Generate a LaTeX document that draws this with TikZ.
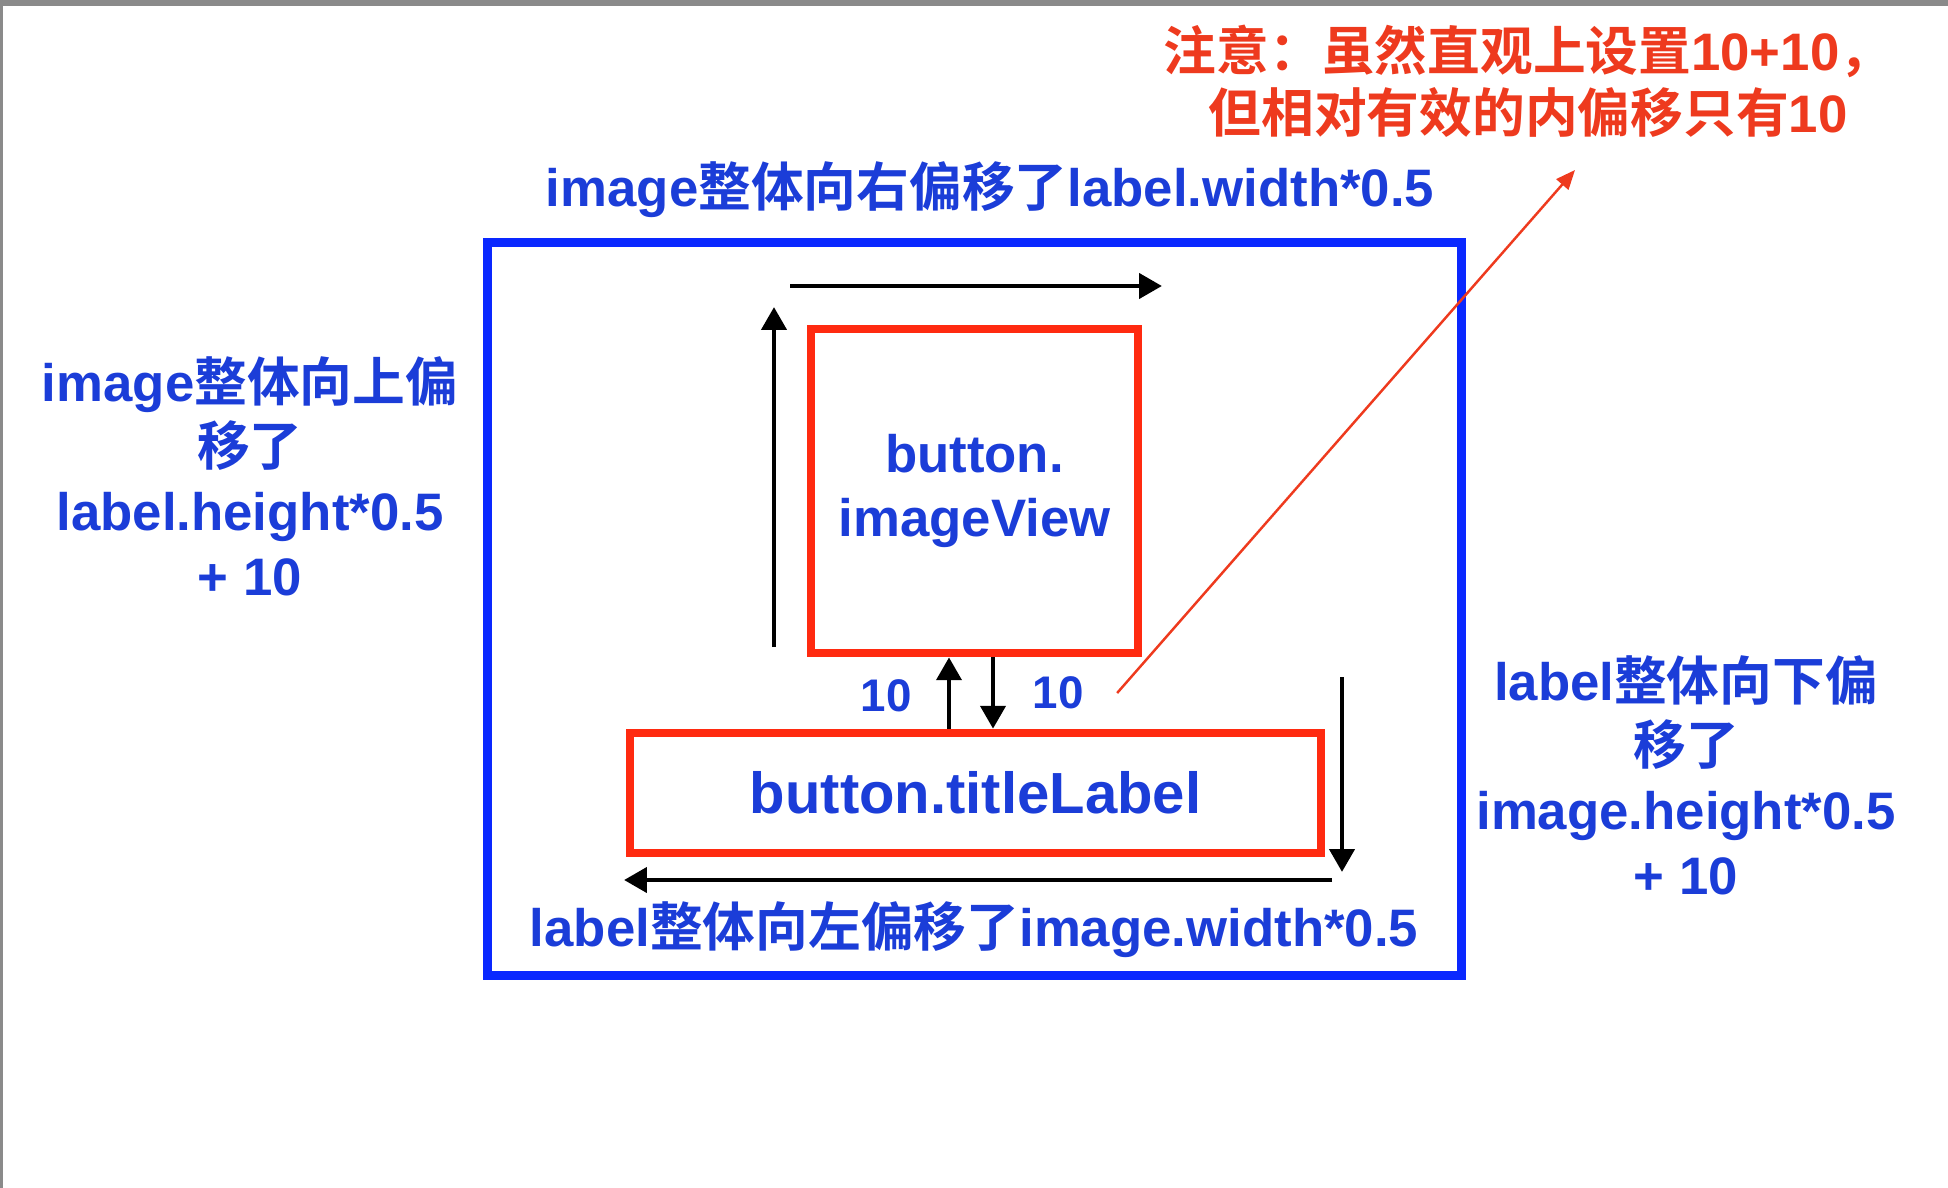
\documentclass[tikz,border=0pt]{standalone}
\usepackage{fontspec}
\setmainfont{Liberation Sans}
\newfontfamily\cjk{Noto Sans CJK SC}[BoldFont={Noto Sans CJK SC Bold}]
\newcommand{\zh}[1]{{\cjk #1}}
\usetikzlibrary{arrows.meta,positioning,calc}
\definecolor{frameBlue}{HTML}{0A28FF}
\definecolor{textBlue}{HTML}{1B3DD8}
\definecolor{viewRed}{HTML}{FF2A10}
\definecolor{noteRed}{HTML}{EE3A1E}
\definecolor{barGray}{HTML}{8A8A8A}

\begin{document}
\begin{tikzpicture}[
  x=0.01cm, y=-0.01cm,
  outerframe/.style={rectangle, draw=frameBlue, line width=2.5pt, inner sep=0pt},
  viewbox/.style={rectangle, draw=viewRed, line width=2.4pt, align=center, text=textBlue, font=\bfseries\fontsize{15}{18.4}\selectfont},
  bluetext/.style={align=center, inner sep=0pt, text=textBlue, font=\bfseries\fontsize{15}{18.4}\selectfont},
  gaptext/.style={inner sep=0pt, text=textBlue, font=\bfseries\fontsize{13}{15}\selectfont},
  notetext/.style={align=center, inner sep=0pt, text=noteRed, font=\bfseries\fontsize{15}{17.6}\selectfont},
  arrow/.style={-{Triangle[length=6.5pt, width=7pt]}, line width=1.4pt, draw=black},
  noteline/.style={-{Triangle[length=5.5pt, width=4.5pt]}, line width=0.7pt, draw=noteRed}
]
\useasboundingbox (0,0) rectangle (1948,1188);
% screenshot edges
\fill[barGray] (0,0) rectangle (1948,6);
\fill[barGray] (0,0) rectangle (3,1188);

\node[outerframe, minimum width=9.73cm, minimum height=7.32cm] (button) at (974.5,609) {};
\node[viewbox, minimum width=3.27cm, minimum height=3.24cm] (imageview) at (974.5,491) {button.\\imageView};
\node[viewbox, minimum width=6.91cm, minimum height=1.20cm, font=\bfseries\fontsize{16.5}{18}\selectfont] (titlelabel) at (975.5,793) {button.titleLabel};

\node[bluetext] (shiftright) at (990,190) {image\zh{整体向右偏移了}label.width*0.5};
\node[bluetext] (shiftleft) at (974,930) {label\zh{整体向左偏移了}image.width*0.5};
\node[bluetext] (shiftup) at (250,476) {image\zh{整体向上偏}\\\zh{移了}\\label.height*0.5\\+ 10};
\node[bluetext] (shiftdown) at (1686,775) {label\zh{整体向下偏}\\\zh{移了}\\image.height*0.5\\+ 10};
\node[notetext] (note) at (1528,81) {\zh{注意：虽然直观上设置}10+10\zh{，}\\\zh{但相对有效的内偏移只有}10};

\node[gaptext] (gapleft) at (886,696) {10};
\node[gaptext] (gapright) at (1058,693) {10};

\coordinate (upfrom) at (774,647);
\coordinate (upto) at (774,307);
\coordinate (rightfrom) at (790,286);
\coordinate (rightto) at (1162,286);
\coordinate (downfrom) at (1342,677);
\coordinate (downto) at (1342,872);
\coordinate (leftfrom) at (1332,880);
\coordinate (leftto) at (624,880);
\coordinate (notetip) at (1575,170);

\draw[arrow] (upfrom) -- (upto);
\draw[arrow] (rightfrom) -- (rightto);
\draw[arrow] (downfrom) -- (downto);
\draw[arrow] (leftfrom) -- (leftto);
\draw[arrow] (titlelabel.north -| 949,0) -- (imageview.south -| 949,0);
\draw[arrow] (imageview.south -| 993,0) -- (titlelabel.north -| 993,0);
\draw[noteline] ([xshift=0.33cm]gapright.east) -- (notetip);
\end{tikzpicture}
\end{document}
